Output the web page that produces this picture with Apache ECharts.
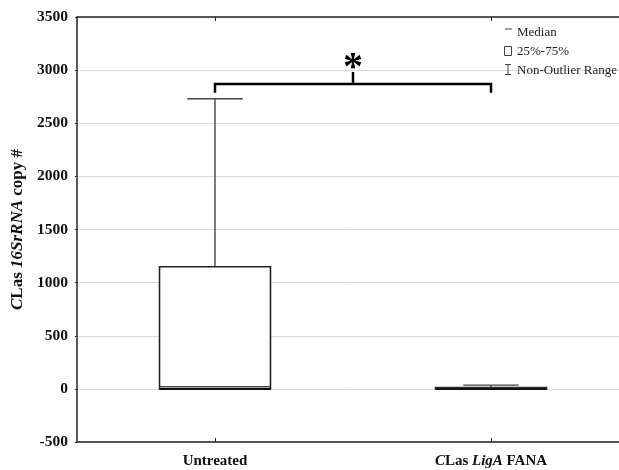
<!DOCTYPE html>
<html>
<head>
<meta charset="utf-8">
<script src="https://cdn.jsdelivr.net/npm/echarts@6/dist/echarts.min.js"></script>
<style>
html,body{margin:0;padding:0;background:#fff;}
#chart{width:619px;height:470px;}
</style>
</head>
<body>
<div id="chart"></div>
<script>
// ---- data ----
const categories = ['Untreated', 'CLas LigA FANA'];
const minVals    = [0, 0];
const q1Vals     = [0, 0];
const medianVals = [20, 5];
const q3Vals     = [1150, 12];
const maxVals    = [2730, 35];
const yTicks     = [-500, 0, 500, 1000, 1500, 2000, 2500, 3000, 3500];
const legendLabels = ['Median', '25%-75%', 'Non-Outlier Range'];
const sigMark = '*';
// bracket levels (data units)
const bracketTop = 2870, bracketEnd = 2786, bracketStem = 2983, starLevel = 3010;

const FONT = '"Liberation Serif", "Times New Roman", serif';
const chart = echarts.init(document.getElementById('chart'), null, {renderer: 'canvas'});

const seriesData = categories.map((c, i) => [i, minVals[i], q1Vals[i], medianVals[i], q3Vals[i], maxVals[i]]);

function renderItem(params, api) {
  const xi = api.value(0);
  const cx = api.coord([xi, 0])[0];
  const band = api.size([1, 0])[0];
  const bw = band * 0.402, hw = bw / 2, cw = bw / 4;
  const y = k => api.coord([xi, api.value(k)])[1];
  const yMin = y(1), yQ1 = y(2), yMed = y(3), yQ3 = y(4), yMax = y(5);
  return {
    type: 'group',
    children: [
      {type: 'line', shape: {x1: cx, y1: yQ3, x2: cx, y2: yMax}, style: {stroke: '#444', lineWidth: 1.4}},
      {type: 'line', shape: {x1: cx - cw, y1: yMax, x2: cx + cw, y2: yMax}, style: {stroke: '#444', lineWidth: 1.4}},
      {type: 'line', shape: {x1: cx, y1: yQ1, x2: cx, y2: yMin}, style: {stroke: '#444', lineWidth: 1.4}},
      {type: 'line', shape: {x1: cx - cw, y1: yMin, x2: cx + cw, y2: yMin}, style: {stroke: '#444', lineWidth: 1.4}},
      {type: 'rect', shape: {x: cx - hw, y: yQ3, width: bw, height: Math.max(yQ1 - yQ3, 0.5)}, style: {fill: '#fff', stroke: '#222', lineWidth: 1.6}},
      {type: 'line', shape: {x1: cx - hw, y1: yMed, x2: cx + hw, y2: yMed}, style: {stroke: '#444', lineWidth: 1.6}},
      {type: 'line', shape: {x1: cx - hw, y1: yQ1, x2: cx + hw, y2: yQ1}, style: {stroke: '#111', lineWidth: 2}}
    ]
  };
}

const xLabelRich = {
  b: {fontFamily: FONT, fontWeight: 'bold', fontSize: 15, color: '#111'},
  bi: {fontFamily: FONT, fontWeight: 'bold', fontStyle: 'italic', fontSize: 15, color: '#111'}
};

const option = {
  animation: false,
  backgroundColor: '#fff',
  grid: {left: 77, top: 17, width: 552, height: 425, show: false, outerBoundsMode: 'none', containLabel: false},
  xAxis: [{
    type: 'category',
    data: categories,
    boundaryGap: true,
    axisLine: {show: true, onZero: false, lineStyle: {color: '#222', width: 1.5}},
    axisTick: {show: true, alignWithLabel: true, inside: true, length: 4, lineStyle: {color: '#222'}},
    splitLine: {show: false},
    axisLabel: {
      margin: 12,
      formatter: v => v === 'Untreated' ? '{b|Untreated}' : '{bi|C}{b|Las }{bi|LigA}{b| FANA}',
      rich: xLabelRich
    }
  }, {
    type: 'category',
    position: 'top',
    data: categories,
    boundaryGap: true,
    axisLine: {show: true, onZero: false, lineStyle: {color: '#222', width: 1.5}},
    axisTick: {show: true, alignWithLabel: true, inside: true, length: 4, lineStyle: {color: '#222'}},
    axisLabel: {show: false}
  }],
  yAxis: {
    type: 'value',
    min: yTicks[0], max: yTicks[yTicks.length - 1], interval: 500,
    axisLine: {show: true, lineStyle: {color: '#222', width: 1.5}},
    axisTick: {show: true, length: 2, lineStyle: {color: '#333'}},
    splitLine: {show: true, lineStyle: {color: '#d9d9d9', width: 1}},
    axisLabel: {margin: 9, fontFamily: FONT, fontWeight: 'bold', fontSize: 15.5, color: '#111', formatter: v => String(v)},
    name: '{i|C}{n|Las }{i|16SrRNA}{n| copy #}',
    nameLocation: 'middle',
    nameGap: 50,
    nameRotate: 90,
    nameTextStyle: {
      rich: {
        i: {fontFamily: FONT, fontWeight: 'bold', fontStyle: 'italic', fontSize: 17, color: '#111'},
        n: {fontFamily: FONT, fontWeight: 'bold', fontSize: 17, color: '#111'}
      }
    }
  },
  series: [{
    type: 'custom',
    renderItem: renderItem,
    data: seriesData,
    encode: {x: 0, y: [1, 2, 3, 4, 5]},
    z: 3
  }]
};
chart.setOption(option);

// bracket + star + legend
const p = v => chart.convertToPixel({xAxisIndex: 0, yAxisIndex: 0}, v);
const a = p([0, bracketTop]), b = p([1, bracketTop]);
const yEnd = p([0, bracketEnd])[1], yStem = p([0, bracketStem])[1], yStar = p([0, starLevel])[1];
const mx = (a[0] + b[0]) / 2;
const LS = {stroke: '#000', lineWidth: 2.5, lineCap: 'butt', lineJoin: 'miter', fill: null};
const lgFont = {fontFamily: FONT, fontSize: 13, fill: '#222'};
chart.setOption({
  graphic: [
    {type: 'polyline', shape: {points: [[a[0], yEnd], [a[0], a[1]], [b[0], b[1]], [b[0], yEnd]]}, style: LS, z: 10},
    {type: 'line', shape: {x1: mx, y1: a[1], x2: mx, y2: yStem}, style: LS, z: 10},
    {type: 'text', x: mx, y: yStar, style: {text: sigMark, fontFamily: FONT, fontWeight: 'bold', fontSize: 40, fill: '#000', align: 'center', verticalAlign: 'middle'}, z: 10},
    {type: 'line', shape: {x1: 505, y1: 29, x2: 512, y2: 29}, style: {stroke: '#444', lineWidth: 1}},
    {type: 'rect', shape: {x: 504.5, y: 46.5, width: 7, height: 9}, style: {stroke: '#444', lineWidth: 1, fill: '#fff'}},
    {type: 'line', shape: {x1: 505, y1: 64.5, x2: 511, y2: 64.5}, style: {stroke: '#444', lineWidth: 1}},
    {type: 'line', shape: {x1: 508, y1: 64.5, x2: 508, y2: 74.5}, style: {stroke: '#444', lineWidth: 1}},
    {type: 'line', shape: {x1: 505, y1: 74.5, x2: 511, y2: 74.5}, style: {stroke: '#444', lineWidth: 1}},
    {type: 'text', x: 517, y: 33, style: Object.assign({text: legendLabels[0], verticalAlign: 'middle'}, lgFont)},
    {type: 'text', x: 517, y: 52, style: Object.assign({text: legendLabels[1], verticalAlign: 'middle'}, lgFont)},
    {type: 'text', x: 517, y: 71, style: Object.assign({text: legendLabels[2], verticalAlign: 'middle'}, lgFont)}
  ]
});
</script>
</body>
</html>
